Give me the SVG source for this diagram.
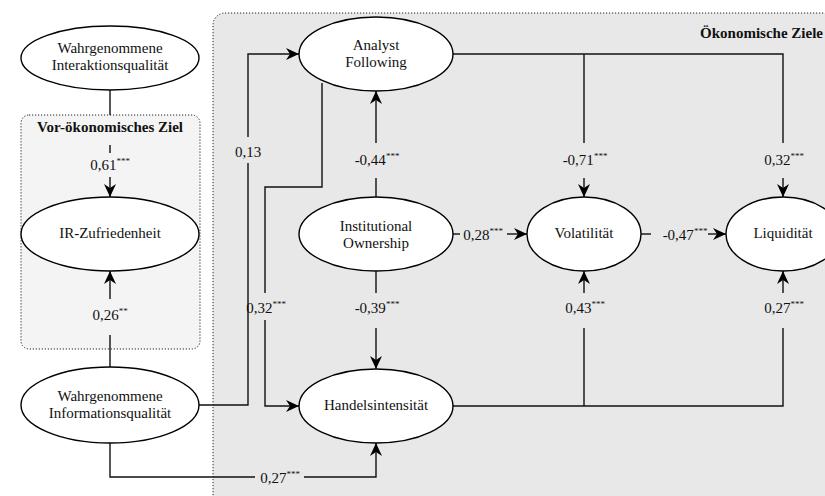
<svg xmlns="http://www.w3.org/2000/svg" width="825" height="496" viewBox="0 0 825 496">
  <style>
    text { font-family: "Liberation Serif", "Times New Roman", serif; fill: #111; }
    .area { stroke: #222; stroke-width: 1; stroke-dasharray: 1.2 1.8; }
    .node ellipse { fill: #fff; stroke: #000; stroke-width: 1.4; }
    .node text, .lbl { font-size: 15px; text-anchor: middle; }
    .title { font-size: 15px; font-weight: bold; }
    .sig { font-size: 9px; }
    .con path { fill: none; stroke: #111; stroke-width: 1.4; }
    .arr { marker-end: url(#head); }
  </style>
  <defs>
    <marker id="head" markerUnits="userSpaceOnUse" markerWidth="14" markerHeight="12" refX="13" refY="6" orient="auto">
      <path d="M0,0 L13,6 L0,12 L4,6 Z" fill="#000"/>
    </marker>
  </defs>

  <!-- grouping areas -->
  <rect class="area" x="213" y="13" width="640" height="500" rx="12" fill="#e8e8e8"/>
  <rect class="area" x="21" y="115" width="179" height="234" rx="8" fill="#f4f4f4"/>
  <text class="title" x="110" y="132" text-anchor="middle">Vor-ökonomisches Ziel</text>
  <text class="title" x="823" y="38" text-anchor="end">Ökonomische Ziele</text>

  <!-- structural paths (gaps leave room for the coefficients) -->
  <g id="connectors" class="con">
    <!-- Interaktionsqualität -> IR-Zufriedenheit -->
    <path d="M110,90 V115 M110,145 V153"/>
    <path class="arr" d="M110,177 V197"/>
    <!-- Informationsqualität -> IR-Zufriedenheit -->
    <path d="M110,367 V335"/>
    <path class="arr" d="M110,299 V271"/>
    <!-- Informationsqualität -> Analyst Following -->
    <path d="M199,405 H248 V163"/>
    <path class="arr" d="M248,137 V54 H299"/>
    <!-- Analyst Following -> Handelsintensität -->
    <path d="M322,83 V187 H265 V293"/>
    <path class="arr" d="M265,320 V406 H299"/>
    <!-- Institutional Ownership -> Analyst Following -->
    <path d="M376,198 V178"/>
    <path class="arr" d="M376,143 V91"/>
    <!-- Institutional Ownership -> Handelsintensität -->
    <path d="M376,271 V293"/>
    <path class="arr" d="M376,328 V369"/>
    <!-- Institutional Ownership -> Volatilität -->
    <path d="M453,234 H460"/>
    <path class="arr" d="M507,234 H527"/>
    <!-- Analyst Following -> Volatilität / Liquidität -->
    <path d="M453,54 H783 V143 M584,54 V143"/>
    <path class="arr" d="M584,178 V197"/>
    <path class="arr" d="M783,178 V197"/>
    <!-- Volatilität -> Liquidität -->
    <path d="M641,234 H651"/>
    <path class="arr" d="M708,234 H726"/>
    <!-- Handelsintensität -> Volatilität / Liquidität -->
    <path d="M453,406 H783 V328 M584,406 V328"/>
    <path class="arr" d="M584,293 V271"/>
    <path class="arr" d="M783,293 V271"/>
    <!-- Informationsqualität -> Handelsintensität -->
    <path d="M110,443 V477 H255"/>
    <path class="arr" d="M304,477 H376 V443"/>
  </g>

  <!-- path coefficients -->
  <g id="labels">
    <text class="lbl" x="110" y="170">0,61<tspan class="sig" dy="-6">***</tspan></text>
    <text class="lbl" x="110" y="320">0,26<tspan class="sig" dy="-6">**</tspan></text>
    <text class="lbl" x="248" y="157">0,13</text>
    <text class="lbl" x="266" y="313">0,32<tspan class="sig" dy="-6">***</tspan></text>
    <text class="lbl" x="377" y="165">-0,44<tspan class="sig" dy="-6">***</tspan></text>
    <text class="lbl" x="377" y="313">-0,39<tspan class="sig" dy="-6">***</tspan></text>
    <text class="lbl" x="483" y="240">0,28<tspan class="sig" dy="-6">***</tspan></text>
    <text class="lbl" x="585" y="165">-0,71<tspan class="sig" dy="-6">***</tspan></text>
    <text class="lbl" x="784" y="165">0,32<tspan class="sig" dy="-6">***</tspan></text>
    <text class="lbl" x="685" y="240">-0,47<tspan class="sig" dy="-6">***</tspan></text>
    <text class="lbl" x="585" y="313">0,43<tspan class="sig" dy="-6">***</tspan></text>
    <text class="lbl" x="784" y="313">0,27<tspan class="sig" dy="-6">***</tspan></text>
    <text class="lbl" x="280" y="483">0,27<tspan class="sig" dy="-6">***</tspan></text>
  </g>

  <!-- constructs -->
  <g id="interaktionsqualitaet" class="node">
    <ellipse cx="110" cy="58" rx="89" ry="32"/>
    <text x="110" y="53">Wahrgenommene</text>
    <text x="110" y="70">Interaktionsqualität</text>
  </g>
  <g id="ir-zufriedenheit" class="node">
    <ellipse cx="110" cy="234" rx="89" ry="37"/>
    <text x="110" y="238">IR-Zufriedenheit</text>
  </g>
  <g id="informationsqualitaet" class="node">
    <ellipse cx="110" cy="405" rx="89" ry="38"/>
    <text x="110" y="401">Wahrgenommene</text>
    <text x="110" y="418">Informationsqualität</text>
  </g>
  <g id="analyst-following" class="node">
    <ellipse cx="376" cy="54" rx="77" ry="37"/>
    <text x="376" y="50">Analyst</text>
    <text x="376" y="67">Following</text>
  </g>
  <g id="institutional-ownership" class="node">
    <ellipse cx="376" cy="234" rx="77" ry="37"/>
    <text x="376" y="231">Institutional</text>
    <text x="376" y="248">Ownership</text>
  </g>
  <g id="handelsintensitaet" class="node">
    <ellipse cx="376" cy="406" rx="77" ry="37"/>
    <text x="376" y="410">Handelsintensität</text>
  </g>
  <g id="volatilitaet" class="node">
    <ellipse cx="584" cy="234" rx="57" ry="37"/>
    <text x="584" y="238">Volatilität</text>
  </g>
  <g id="liquiditaet" class="node">
    <ellipse cx="783" cy="234" rx="57" ry="37"/>
    <text x="783" y="238">Liquidität</text>
  </g>
</svg>
